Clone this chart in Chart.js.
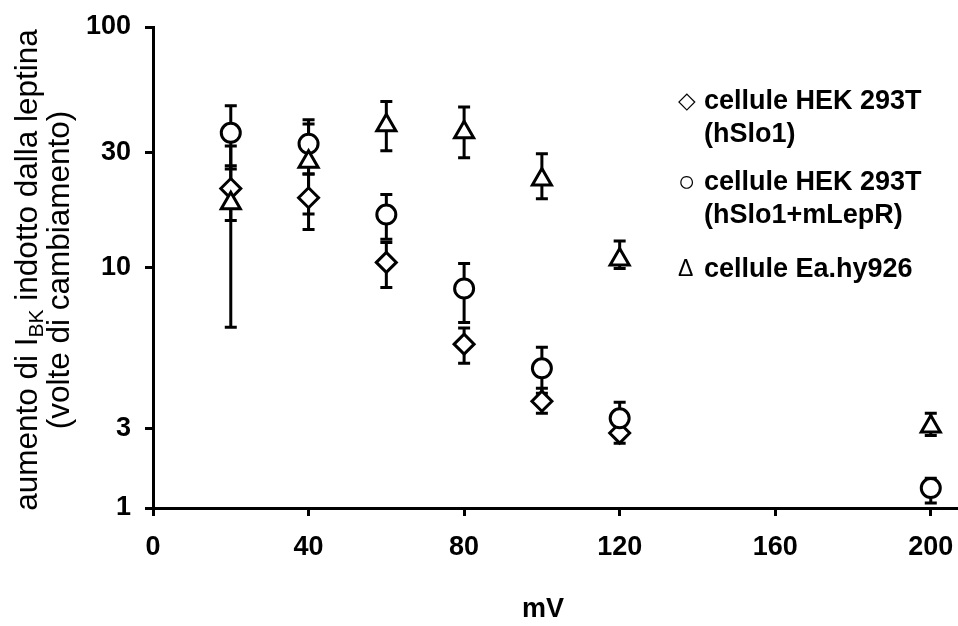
<!DOCTYPE html>
<html>
<head>
<meta charset="utf-8">
<script src="https://cdn.jsdelivr.net/npm/chart.js@4.4.0/dist/chart.umd.min.js"></script>
<style>
  html, body { margin: 0; padding: 0; background: #fff; }
  #wrap { position: relative; width: 958px; height: 626px; overflow: hidden;
    font-family: "Liberation Sans", Arial, sans-serif; color: #000; }
  #chart { position: absolute; left: 0; top: 0; }
  #ytitle { position: absolute; width: 560px; height: 64px; left: -238px; top: 238px;
    transform: rotate(-90deg); text-align: center; font-size: 31.5px; line-height: 32px; white-space: nowrap; }
  #ytitle sub { font-size: 21px; vertical-align: -6px; line-height: 0; }
  #xtitle { position: absolute; left: 493px; width: 100px; top: 590px; text-align: center;
    font-size: 27px; font-weight: bold; line-height: 36px; }
  .leg { position: absolute; left: 678px; font-size: 27px; font-weight: bold; line-height: 33px; white-space: nowrap; }
  .leg .g { display: inline-block; width: 26px; font-size: 23px; font-weight: normal; vertical-align: 1px; }
  .leg .g1 { font-size: 29px; vertical-align: -1px; }
  .leg .l2 { padding-left: 26px; }
</style>
</head>
<body>
<div id="wrap">
  <canvas id="chart" width="958" height="626"></canvas>
  <div id="ytitle">aumento di I<sub>BK</sub> indotto dalla leptina<br>(volte di cambiamento)</div>
  <div id="xtitle">mV</div>
  <div id="legend"></div>
</div>
<script>
"use strict";

// Voltage steps (mV) shared by the three series
const VOLTAGES = [20, 40, 60, 80, 100, 120, 200];

// HEK 293T (hSlo1) — diamonds
const hekMean = [21.3, 19.5, 10.5, 4.8, 2.78, 2.05, null];
const hekHi = [26.5, 24.5, 12.7, 5.6, 3.15, 2.25, null];
const hekLo = [15.7, 14.4, 8.26, 4.0, 2.48, 1.86, null];

// HEK 293T (hSlo1+mLepR) — circles
const lepMean = [36.3, 32.7, 16.6, 8.18, 3.81, 2.36, 1.21];
const lepHi = [47.0, 41.1, 20.1, 10.4, 4.66, 2.75, 1.33];
const lepLo = [25.7, 24.5, 13.1, 5.9, 3.0, 2.0, 1.05];

// Ea.hy926 — triangles
const eaMean = [18.5, 27.5, 39.0, 36.5, 23.2, 10.8, 2.18];
const eaHi = [32.0, 39.5, 49.0, 46.5, 29.7, 12.9, 2.48];
const eaLo = [5.64, 16.7, 30.6, 28.6, 19.3, 9.9, 2.0];

const X_TICKS = [0, 40, 80, 120, 160, 200];
const Y_TICKS = [1, 2.15, 10, 30, 100];
const Y_LABELS = ["1", "3", "10", "30", "100"];

const LEGEND_GLYPHS = ["\u25C7", "\u25CB", "\u0394"];
const LEGEND_LINES = [
  ["cellule HEK 293T", "(hSlo1)"],
  ["cellule HEK 293T", "(hSlo1+mLepR)"],
  ["cellule Ea.hy926"],
];
const LEGEND_TOPS = [84, 165, 252];

function el(id) {
  return document.getElementById(id);
}

function points(mean, hi, lo) {
  const out = [];
  VOLTAGES.forEach((v, i) => {
    if (mean[i] == null) return;
    out.push({ x: v, y: mean[i], hi: hi[i], lo: lo[i] });
  });
  return out;
}

function renderLegend() {
  el("legend").innerHTML = LEGEND_LINES.map((lines, i) => {
    const first = `<div><span class="g g${i}">${LEGEND_GLYPHS[i]}</span>${lines[0]}</div>`;
    const rest = lines.slice(1).map((t) => `<div class="l2">${t}</div>`).join("");
    return `<div class="leg" style="top:${LEGEND_TOPS[i]}px">${first}${rest}</div>`;
  }).join("");
}

// vertical whiskers with caps, drawn under the markers
const errorBars = {
  id: "errorBars",
  beforeDatasetsDraw(chart) {
    const { ctx, scales: { x, y } } = chart;
    ctx.save();
    ctx.strokeStyle = "#000";
    ctx.lineWidth = 3;
    chart.data.datasets.forEach((ds) => {
      ds.data.forEach((p) => {
        const px = x.getPixelForValue(p.x);
        const top = y.getPixelForValue(p.hi);
        const bot = y.getPixelForValue(p.lo);
        ctx.beginPath();
        ctx.moveTo(px, top); ctx.lineTo(px, bot);
        ctx.moveTo(px - 6, top); ctx.lineTo(px + 6, top);
        ctx.moveTo(px - 6, bot); ctx.lineTo(px + 6, bot);
        ctx.stroke();
      });
    });
    ctx.restore();
  },
};

function marker(label, data, style, radius, order) {
  return {
    label, data, order,
    showLine: false,
    pointStyle: style,
    pointRadius: radius,
    pointHoverRadius: radius,
    pointBorderWidth: 3,
    pointBorderColor: "#000",
    pointBackgroundColor: "#fff",
    clip: false,
  };
}

function render() {
  const tickFont = { family: "'Liberation Sans', Arial, sans-serif", size: 27, weight: "bold" };
  new Chart(el("chart"), {
    type: "scatter",
    data: {
      datasets: [
        marker("cellule HEK 293T (hSlo1)", points(hekMean, hekHi, hekLo), "rectRot", 10, 2),
        marker("cellule HEK 293T (hSlo1+mLepR)", points(lepMean, lepHi, lepLo), "circle", 9.5, 1),
        marker("cellule Ea.hy926", points(eaMean, eaHi, eaLo), "triangle", 11, 0),
      ],
    },
    options: {
      responsive: false,
      animation: false,
      devicePixelRatio: 1,
      layout: { autoPadding: false, padding: { top: 27, right: 0, left: 0, bottom: 0 } },
      plugins: { legend: { display: false }, tooltip: { enabled: false } },
      scales: {
        x: {
          type: "linear", min: 0, max: 207,
          afterBuildTicks: (s) => { s.ticks = X_TICKS.map((v) => ({ value: v })); },
          afterFit: (s) => { s.height = 118; s.paddingLeft = 0; s.paddingRight = 0; },
          border: { color: "#000", width: 3 },
          grid: { drawOnChartArea: false, tickLength: 8, tickWidth: 3, tickColor: "#000" },
          ticks: { color: "#000", font: tickFont, padding: 15, maxRotation: 0 },
        },
        y: {
          type: "logarithmic", min: 1, max: 100,
          afterBuildTicks: (s) => { s.ticks = Y_TICKS.map((v) => ({ value: v })); },
          afterFit: (s) => { s.width = 153; s.paddingTop = 0; s.paddingBottom = 0; },
          border: { color: "#000", width: 3 },
          grid: { drawOnChartArea: false, tickLength: 8, tickWidth: 3, tickColor: "#000" },
          ticks: { color: "#000", font: tickFont, padding: 14, callback: (v, i) => Y_LABELS[i] },
        },
      },
    },
    plugins: [errorBars],
  });
}

renderLegend();
render();
</script>
</body>
</html>
